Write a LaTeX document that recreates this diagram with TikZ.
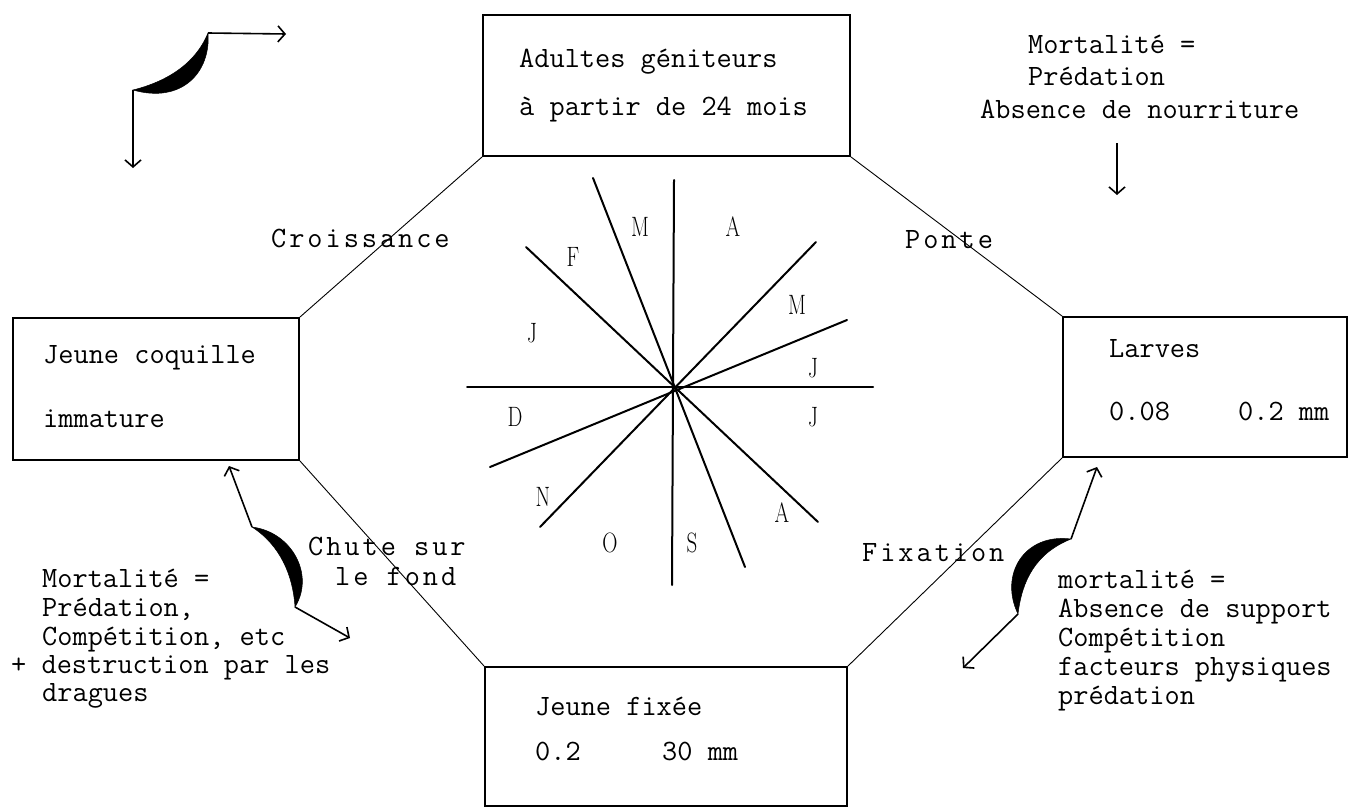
\documentclass[tikz,border=0pt]{standalone}
\usepackage{fontspec}
\usepackage{graphicx}
\usetikzlibrary{arrows.meta}
\newfontfamily\tw{Latin Modern Mono}
\newfontfamily\tws{Latin Modern Mono}[LetterSpace=10]
\newcommand\twsize{\fontsize{29.5}{32}\selectfont}
\newcommand\mo[1]{\scalebox{0.75}[1]{#1}}
\begin{document}
\begin{tikzpicture}[x=1pt,y=-1pt,
  box/.style={draw,line width=1.8pt,inner sep=0pt},
  txt/.style={anchor=base west,inner sep=0pt,font=\tw\twsize},
  lbl/.style={anchor=base west,inner sep=0pt,font=\tws\twsize},
  mon/.style={inner sep=0pt,font=\rmfamily\fontsize{28}{28}\selectfont},
  oct/.style={line width=0.9pt},
  ray/.style={line width=2pt,line cap=round},
  arr/.style={line width=1.6pt,-{Straight Barb[length=7pt,width=16pt]}},
  cres/.style={fill=black,draw=black,line width=0.5pt}]
\useasboundingbox (0,0) rectangle (1351,811);

% boxes
\node[box,minimum width=367pt,minimum height=141pt] (adult) at (666.5,85.5) {};
\node[box,minimum width=286pt,minimum height=142pt] (young) at (156,389) {};
\node[box,minimum width=284pt,minimum height=140pt] (larv) at (1205,387) {};
\node[box,minimum width=362pt,minimum height=139pt] (fixed) at (666,736.5) {};

% octagon connectors
\draw[oct] (adult.south west) -- (young.north east);
\draw[oct] (adult.south east) -- (larv.north west);
\draw[oct] (larv.south west) -- (fixed.north east);
\draw[oct] (young.south east) -- (fixed.north west);

% box texts
\node[txt] (t1) at (519,67) {Adultes géniteurs};
\node[txt] (t2) at (519,115) {à partir de 24 mois};
\node[txt] (l1) at (43,363) {Jeune coquille};
\node[txt] (l2) at (43,427) {immature};
\node[txt] (r1) at (1109,357) {Larves};
\node[txt] (r2) at (1109,420) {0.08};
\node[txt] (r3) at (1238,420) {0.2 mm};
\node[txt] (b1) at (535,715) {Jeune fixée};
\node[txt] (b2) at (535,760) {0.2};
\node[txt] (b3) at (662,760) {30 mm};

% transition labels
\node[lbl] (croi) at (271,247) {Croissance};
\node[lbl] (ponte) at (905,248) {Ponte};
\node[lbl] (fix) at (862,561) {Fixation};
\node[lbl] (chute1) at (308,555) {Chute sur};
\node[lbl] (chute2) at (335,585) {le fond};

% mortality texts
\node[txt] (m1) at (1028,53) {Mortalité =};
\node[txt] (m2) at (1028,85) {Prédation};
\node[txt] (m3) at (980,118) {Absence de nourriture};

\node[txt] (ml1) at (42,587) {Mortalité =};
\node[txt] (ml2) at (42,616) {Prédation,};
\node[txt] (ml3) at (42,645) {Compétition, etc};
\node[txt] (ml4) at (11,673) {+ destruction par les};
\node[txt] (ml5) at (42,701) {dragues};

\node[txt] (mr1) at (1058,588) {mortalité =};
\node[txt] (mr2) at (1058,617) {Absence de support};
\node[txt] (mr3) at (1058,646) {Compétition};
\node[txt] (mr4) at (1058,675) {facteurs physiques};
\node[txt] (mr5) at (1058,704) {prédation};

% star of months
\draw[ray] (674,180) -- (672,585);
\draw[ray] (593,178) -- (745,567);
\draw[ray] (526,247) -- (818,522);
\draw[ray] (816,242) -- (540,527);
\draw[ray] (847,320) -- (490,467);
\draw[ray] (467,387) -- (873,387);

\node[mon] (mM1) at (640,227) {\mo{M}};
\node[mon] (mA1) at (733,227) {\mo{A}};
\node[mon] (mF) at (573,257) {\mo{F}};
\node[mon] (mM2) at (797,305) {\mo{M}};
\node[mon] (mJ1) at (532,333) {\mo{J}};
\node[mon] (mJ2) at (813,368) {\mo{J}};
\node[mon] (mD) at (515,417) {\mo{D}};
\node[mon] (mJ3) at (813,417) {\mo{J}};
\node[mon] (mN) at (543,497) {\mo{N}};
\node[mon] (mA2) at (782,513) {\mo{A}};
\node[mon] (mO) at (610,543) {\mo{O}};
\node[mon] (mS) at (692,543) {\mo{S}};

% top-left legend symbol
\coordinate (c1a) at (208,33);
\coordinate (c1b) at (133,90);
\coordinate (c1r) at (286,34);
\coordinate (c1d) at (133,168);
\fill[cres] (c1a) .. controls (211,72) and (182,104) .. (c1b)
  .. controls (165,82) and (195,65) .. (c1a) -- cycle;
\draw[arr] (c1a) -- (c1r);
\draw[arr] (c1b) -- (c1d);

% top-right arrow
\coordinate (tra) at (1117,143);
\coordinate (trb) at (1117,195);
\draw[arr] (tra) -- (trb);

% bottom-left crescent arrows
\coordinate (c2a) at (252,527);
\coordinate (c2b) at (295,607);
\coordinate (c2u) at (229,466);
\coordinate (c2d) at (350,638);
\fill[cres] (c2a) .. controls (292,532) and (315,575) .. (c2b)
  .. controls (293,575) and (280,545) .. (c2a) -- cycle;
\draw[arr] (c2a) -- (c2u);
\draw[arr] (c2b) -- (c2d);

% bottom-right crescent arrows
\coordinate (c3a) at (1071,539);
\coordinate (c3b) at (1018,614);
\coordinate (c3u) at (1097,467);
\coordinate (c3d) at (963,668);
\fill[cres] (c3a) .. controls (1024,533) and (999,575) .. (c3b)
  .. controls (1022,580) and (1036,553) .. (c3a) -- cycle;
\draw[arr] (c3a) -- (c3u);
\draw[arr] (c3b) -- (c3d);
\end{tikzpicture}
\end{document}
